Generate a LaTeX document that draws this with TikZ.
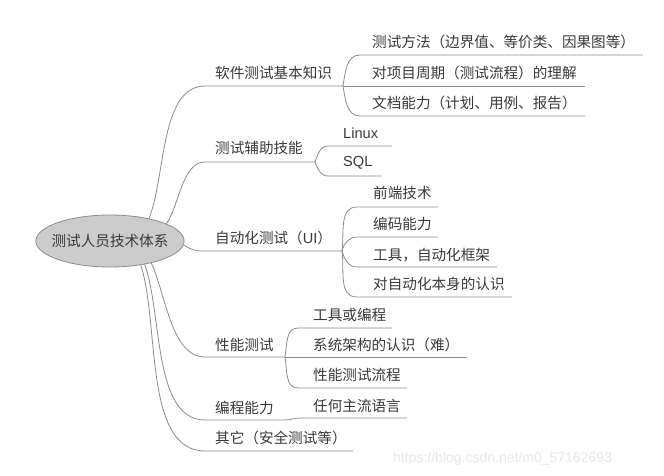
\documentclass[tikz,border=0pt]{standalone}
\usepackage{fontspec}
\setmainfont{Noto Sans CJK SC}
\newfontfamily\latf{Liberation Sans}
\usetikzlibrary{shapes.geometric}
\definecolor{linec}{HTML}{8C8C8C}
\definecolor{txtc}{HTML}{3A3A3A}
\begin{document}
\begin{tikzpicture}[x=1pt,y=-1pt,
  conn/.style={draw=linec,line width=0.8pt},
  lbl/.style={anchor=west,inner sep=0pt,text=txtc,font=\fontsize{14.6}{16}\selectfont},
  rootnode/.style={ellipse,draw=linec,fill=black!20,line width=0.8pt,minimum width=146pt,minimum height=52pt,inner xsep=-6pt,inner ysep=0pt,text=txtc,font=\fontsize{14.6}{16}\selectfont}]
\useasboundingbox (0,0) rectangle (664,476);
\fill[white] (0,0) rectangle (664,476);

% root
\node[rootnode] (root) at (110,241) {测试人员技术体系};

% level 1 labels
\node[lbl] (A) at (215,73) {软件测试基本知识};
\node[lbl] (B) at (215,148) {测试辅助技能};
\node[lbl] (C) at (215,238) {自动化测试（{\latf UI}）};
\node[lbl] (D) at (215,345) {性能测试};
\node[lbl] (E) at (215,408) {编程能力};
\node[lbl] (F) at (215,438) {其它（安全测试等）};

% level 1 underline coordinates
\coordinate (a0) at (205,86);  \coordinate (a1) at (343,86);
\coordinate (b0) at (205,162); \coordinate (b1) at (315,162);
\coordinate (c0) at (203,251); \coordinate (c1) at (342,251);
\coordinate (d0) at (205,357); \coordinate (d1) at (285,357);
\coordinate (e0) at (205,420); \coordinate (e1) at (285,420);
\coordinate (f0) at (205,451); \coordinate (f1) at (353,451);

\draw[conn] (root.30)  to[out=68,in=180,looseness=0.8] (a0) -- (a1);
\draw[conn] (root.17)  to[out=55,in=180,looseness=0.8] (b0) -- (b1);
\draw[conn] (root.-3)  to[out=-35,in=180] (c0) -- (c1);
\draw[conn] (root.-28) to[out=-65,in=180,looseness=0.8] (d0) -- (d1);
\draw[conn] (root.-34) to[out=-70,in=180,looseness=0.8] (e0) -- (e1);
\draw[conn] (root.-38) to[out=-72,in=180,looseness=0.8] (f0) -- (f1);

% children of A
\node[lbl] (A1) at (372,42) {测试方法（边界值、等价类、因果图等）};
\node[lbl] (A2) at (372,73) {对项目周期（测试流程）的理解};
\node[lbl] (A3) at (372,103) {文档能力（计划、用例、报告）};
\coordinate (a1s) at (360,55);  \coordinate (a1e) at (643,55);
\coordinate (a2e) at (585,86);
\coordinate (a3s) at (360,116); \coordinate (a3e) at (585,116);
\draw[conn] (a1) to[out=80,in=180] (a1s) -- (a1e);
\draw[conn] (a1) -- (a2e);
\draw[conn] (a1) to[out=-80,in=180] (a3s) -- (a3e);

% children of B
\node[lbl,font=\latf\fontsize{14.6}{16}\selectfont] (B1) at (343,133) {Linux};
\node[lbl,font=\latf\fontsize{14.6}{16}\selectfont] (B2) at (343,163) {SQL};
\coordinate (b1s) at (328,146); \coordinate (b1e) at (392,146);
\coordinate (b2s) at (328,176); \coordinate (b2e) at (382,176);
\draw[conn] (b1) to[out=70,in=180] (b1s) -- (b1e);
\draw[conn] (b1) to[out=-70,in=180] (b2s) -- (b2e);

% children of C
\node[lbl] (C1) at (373,193) {前端技术};
\node[lbl] (C2) at (373,224) {编码能力};
\node[lbl] (C3) at (373,255) {工具，自动化框架};
\node[lbl] (C4) at (373,284) {对自动化本身的认识};
\coordinate (c1s) at (357,207); \coordinate (c1e) at (438,207);
\coordinate (c2s) at (357,237); \coordinate (c2e) at (438,237);
\coordinate (c3s) at (357,267); \coordinate (c3e) at (497,267);
\coordinate (c4s) at (357,297); \coordinate (c4e) at (512,297);
\draw[conn] (c1) to[out=82,in=180] (c1s) -- (c1e);
\draw[conn] (c1) to[out=75,in=180] (c2s) -- (c2e);
\draw[conn] (c1) to[out=-75,in=180] (c3s) -- (c3e);
\draw[conn] (c1) to[out=-82,in=180] (c4s) -- (c4e);

% children of D
\node[lbl] (D1) at (313,315) {工具或编程};
\node[lbl] (D2) at (313,345) {系统架构的认识（难）};
\node[lbl] (D3) at (313,375) {性能测试流程};
\coordinate (d1s) at (298,328); \coordinate (d1e) at (392,328);
\coordinate (d2e) at (467,357);
\coordinate (d3s) at (298,388); \coordinate (d3e) at (407,388);
\draw[conn] (d1) to[out=80,in=180] (d1s) -- (d1e);
\draw[conn] (d1) -- (d2e);
\draw[conn] (d1) to[out=-80,in=180] (d3s) -- (d3e);

% child of E
\node[lbl] (E1) at (313,406) {任何主流语言};
\coordinate (e1s) at (300,418); \coordinate (e1e) at (407,418);
\draw[conn] (e1) to[out=0,in=180] (e1s) -- (e1e);

% watermark
\node[lbl,text=black!9,font=\latf\fontsize{14}{16}\selectfont] (wm) at (393,459) {https://blog.csdn.net/m0\_57162693};
\end{tikzpicture}
\end{document}
